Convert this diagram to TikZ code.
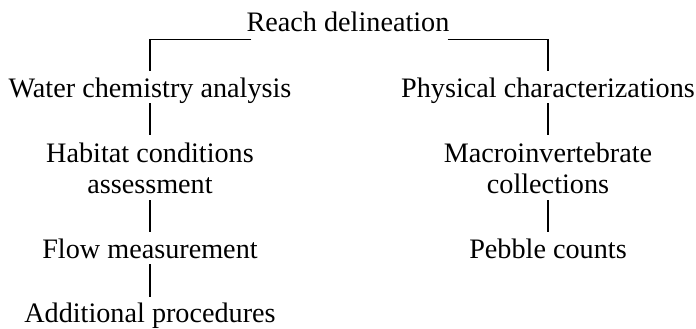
\documentclass[tikz,border=0pt]{standalone}
\usepackage{fontspec}
\setmainfont{Liberation Serif}
\begin{document}
\begin{tikzpicture}[x=1pt,y=-1pt,
  lbl/.style={inner sep=0pt, anchor=base, font=\fontsize{28.2}{31}\selectfont, align=center},
  conn/.style={line width=1.5pt}]
\useasboundingbox (0,0) rectangle (696,329);
\node[lbl] (rd)  at (348,32)  {Reach delineation};
\node[lbl] (wca) at (150,97)  {Water chemistry analysis};
\node[lbl] (hca) at (150,193) {Habitat conditions\\assessment};
\node[lbl] (fm)  at (150,258) {Flow measurement};
\node[lbl] (ap)  at (150,322) {Additional procedures};
\node[lbl] (pc)  at (548,97)  {Physical characterizations};
\node[lbl] (mc)  at (548,193) {Macroinvertebrate\\collections};
\node[lbl] (pbc) at (548,258) {Pebble counts};
\draw[conn] ([xshift=5pt,yshift=-7.5pt]rd.base west) -| ([yshift=26pt]wca.base);
\draw[conn] ([xshift=-2pt,yshift=-7.5pt]rd.base east) -| ([yshift=26pt]pc.base);
\draw[conn] ([yshift=-6pt]wca.base) -- ([yshift=58pt]hca.base);
\draw[conn] ([yshift=-7pt]hca.base) -- ([yshift=26pt]fm.base);
\draw[conn] ([yshift=-6pt]fm.base) -- ([yshift=25pt]ap.base);
\draw[conn] ([yshift=-6pt]pc.base) -- ([yshift=58pt]mc.base);
\draw[conn] ([yshift=-7pt]mc.base) -- ([yshift=26pt]pbc.base);
\end{tikzpicture}
\end{document}
